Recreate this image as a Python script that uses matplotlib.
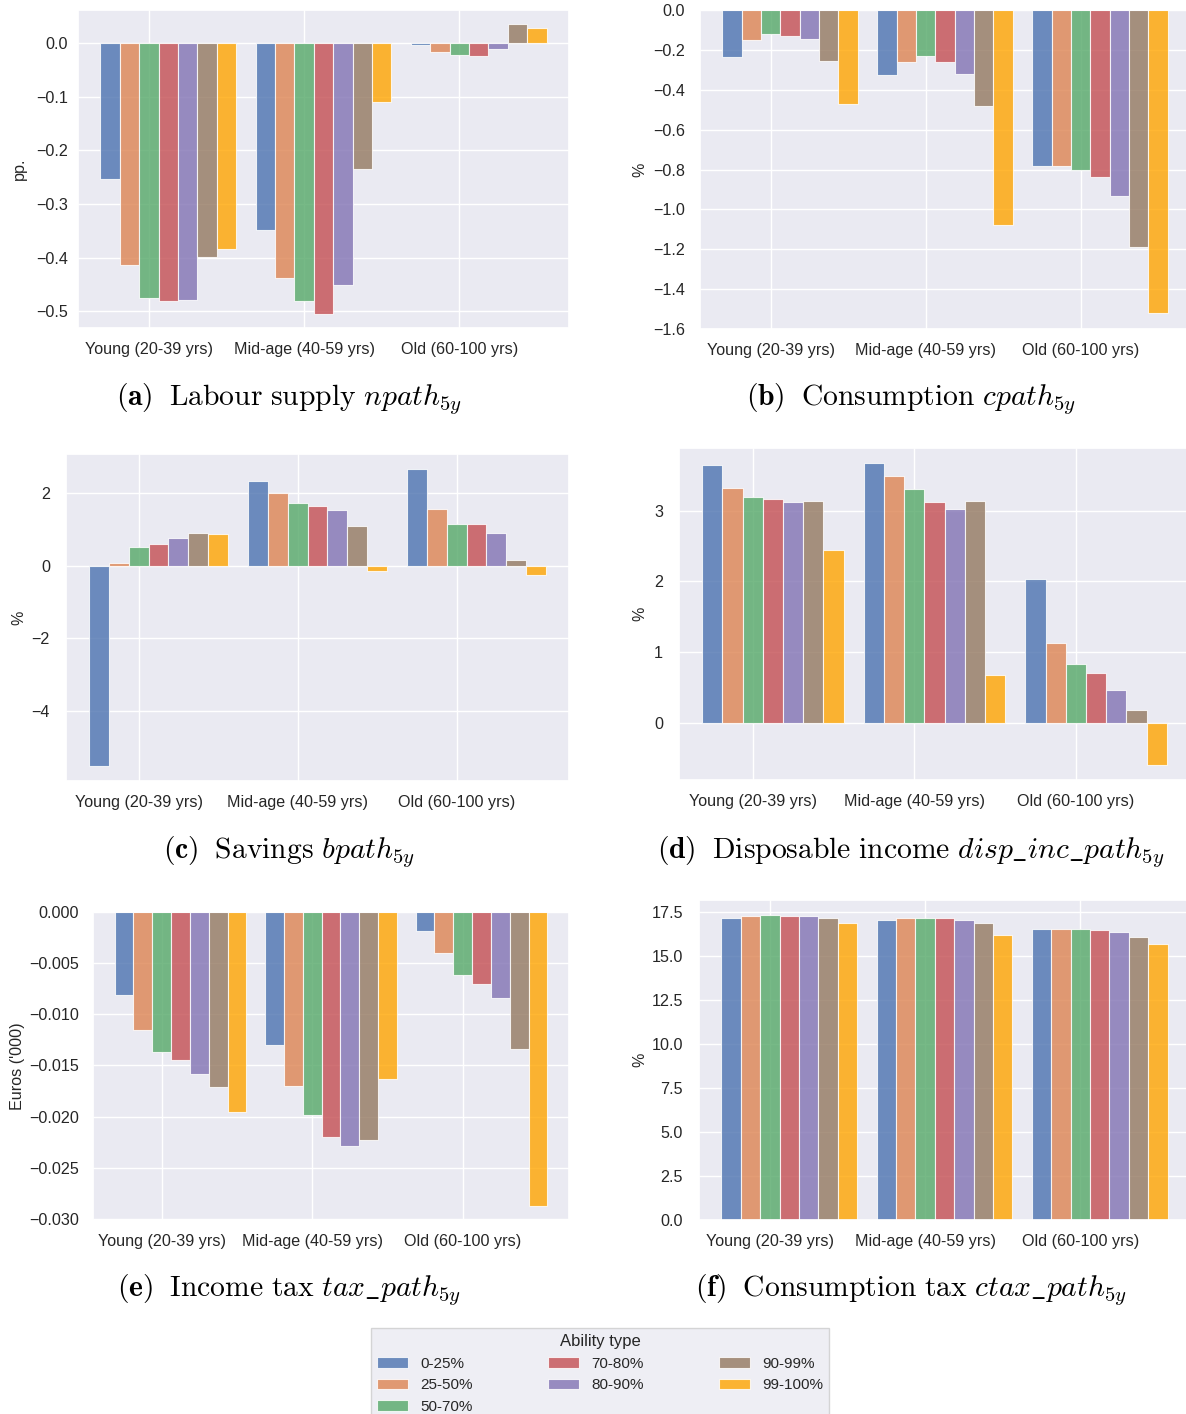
import numpy as np
import matplotlib.pyplot as plt
import seaborn as sns

sns.set_theme(style="darkgrid")
plt.rcParams['font.family'] = ['Liberation Sans', 'DejaVu Sans']
plt.rcParams['mathtext.fontset'] = 'cm'

# categories
age_groups = ["Young (20-39 yrs)", "Mid-age (40-59 yrs)", "Old (60-100 yrs)"]
ability = ["0-25%", "25-50%", "50-70%", "70-80%", "80-90%", "90-99%", "99-100%"]
colors = ["#4C72B0", "#DD8452", "#55A868", "#C44E52", "#8172B3", "#937860", "orange"]

# rows = age groups, columns = ability types
labour = [[-0.254, -0.414, -0.475, -0.480, -0.478, -0.398, -0.384],
          [-0.348, -0.437, -0.480, -0.504, -0.450, -0.234, -0.109],
          [-0.004, -0.017, -0.022, -0.024, -0.011, 0.035, 0.029]]
consumption = [[-0.237, -0.150, -0.119, -0.129, -0.147, -0.257, -0.471],
               [-0.324, -0.261, -0.230, -0.262, -0.319, -0.484, -1.076],
               [-0.780, -0.783, -0.805, -0.837, -0.934, -1.187, -1.520]]
savings = [[-5.52, 0.083, 0.505, 0.596, 0.752, 0.908, 0.881],
           [2.321, 2.00, 1.734, 1.651, 1.532, 1.092, -0.147],
           [2.661, 1.569, 1.156, 1.147, 0.908, 0.147, -0.257]]
disp_inc = [[3.646, 3.325, 3.198, 3.170, 3.127, 3.142, 2.449],
            [3.674, 3.490, 3.311, 3.118, 3.029, 3.137, 0.674],
            [2.030, 1.130, 0.834, 0.702, 0.462, 0.188, -0.594]]
income_tax = [[-0.00808, -0.01153, -0.01368, -0.01446, -0.0158, -0.01707, -0.01951],
              [-0.01303, -0.01704, -0.01984, -0.02199, -0.0229, -0.02231, -0.01632],
              [-0.00189, -0.00404, -0.00619, -0.00704, -0.00837, -0.01339, -0.02873]]
cons_tax = [[17.16, 17.27, 17.31, 17.29, 17.27, 17.14, 16.89],
            [17.06, 17.14, 17.16, 17.14, 17.06, 16.89, 16.19],
            [16.53, 16.53, 16.52, 16.48, 16.38, 16.06, 15.68]]

captions = [r"$\mathbf{(a)}\;\ \mathrm{Labour\ supply}\ npath_{5y}$",
            r"$\mathbf{(b)}\;\ \mathrm{Consumption}\ cpath_{5y}$",
            r"$\mathbf{(c)}\;\ \mathrm{Savings}\ bpath_{5y}$",
            r"$\mathbf{(d)}\;\ \mathrm{Disposable\ income}\ disp\_inc\_path_{5y}$",
            r"$\mathbf{(e)}\;\ \mathrm{Income\ tax}\ tax\_path_{5y}$",
            r"$\mathbf{(f)}\;\ \mathrm{Consumption\ tax}\ ctax\_path_{5y}$"]
ylabels = ["pp.", "%", "%", "%", "Euros ('000)", "%"]
panels = [labour, consumption, savings, disp_inc, income_tax, cons_tax]

W, H = 1186, 1414
fig = plt.figure(figsize=(W / 100, H / 100), dpi=100)

# axes boxes in pixels: left, top, right, bottom
boxes = [(78, 10, 569, 328), (700, 10, 1190, 329),
         (66, 454, 569, 781), (679, 448, 1190, 780),
         (93, 912, 569, 1220), (699, 900, 1190, 1220)]
ylims = [None, (-1.6, 0.0), None, None, (-0.0301, 0.0), None]
yticks = [np.arange(-0.5, 0.01, 0.1), np.arange(-1.6, 0.01, 0.2), [-4, -2, 0, 2],
          [0, 1, 2, 3], np.arange(-0.030, 0.0001, 0.005), np.arange(0, 17.6, 2.5)]
yfmt = ["%.1f", "%.1f", "%.0f", "%.0f", "%.3f", "%.1f"]
ylab_x = [27, 647, 26, 647, 25, 647]
ypads = [7.2, 11, 11.5, 11.5, 10, 11.5]
cap_x = [289, 911, 289, 911, 289, 911]
cap_y = [399, 399, 852, 852, 1290, 1290]


def fmt_tick(v, f):
    if abs(v) < 1e-12:
        v = 0.0
    return (f % v).replace("-", "\u2212")


x = np.arange(len(age_groups))
w = 0.125

for k, vals in enumerate(panels):
    l, t, r, b = boxes[k]
    ax = fig.add_axes([l / W, 1 - b / H, (r - l) / W, (b - t) / H])
    vals = np.array(vals)
    for i in range(len(ability)):
        ax.bar(x + (i - 2) * w, vals[:, i], w, color=colors[i], alpha=0.8,
               edgecolor="white", linewidth=0.8, label=ability[i])
    ax.set_xticks(x)
    ax.set_xticklabels(age_groups, fontsize=11.6)
    if ylims[k]:
        ax.set_ylim(*ylims[k])
    ax.set_yticks(yticks[k])
    ax.set_yticklabels([fmt_tick(v, yfmt[k]) for v in yticks[k]], fontsize=11.6)
    ax.tick_params(axis="both", length=0)
    ax.tick_params(axis="x", pad=10)
    ax.tick_params(axis="y", pad=ypads[k])
    ax.set_ylabel(ylabels[k], fontsize=11.6)
    ax.yaxis.set_label_coords((ylab_x[k] - l) / (r - l), 0.5)
    fig.text(cap_x[k] / W, 1 - cap_y[k] / H, captions[k], fontsize=21.3,
             ha="center", va="center", color="black")
    if k == 0:
        handles, labels = ax.get_legend_handles_labels()

fig.legend(handles, labels, title="Ability type", ncol=3, loc="upper left",
           bbox_to_anchor=(371 / W, 1 - 1328 / H, 458 / W, 0), mode="expand",
           borderaxespad=0, fontsize=11, title_fontsize=12,
           facecolor="#EAEAF2", edgecolor="#CCCCCC", fancybox=False)

fig.savefig("out.png", dpi=100)
